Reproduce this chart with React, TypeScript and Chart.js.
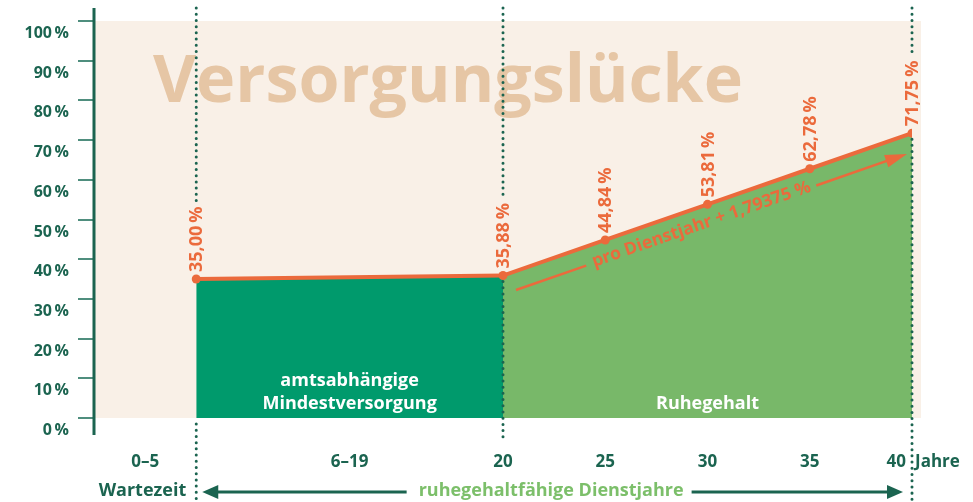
import React, { useEffect, useRef } from 'react';
import { Chart, registerables } from 'chart.js';

Chart.register(...registerables);

// ---- data ----
const serviceYears = [5, 20, 25, 30, 35, 40];
const pensionRates = [35.0, 35.88, 44.84, 53.81, 62.78, 71.75];
const dividerYears = [5, 20, 40];
const yTickValues = [0, 10, 20, 30, 40, 50, 60, 70, 80, 90, 100];
const xTickPositions = [2.5, 12.5, 20, 25, 30, 35, 40];
const xTickLabels = ['0–5', '6–19', '20', '25', '30', '35', '40'];
const unitLabel = 'Jahre';
const titleLabel = 'Versorgungslücke';
const minimumLabel = ['amtsabhängige', 'Mindestversorgung'];
const pensionLabel = 'Ruhegehalt';
const slopeLabel = 'pro Dienstjahr + 1,79375 %';
const waitLabel = 'Wartezeit';
const serviceLabel = 'ruhegehaltfähige Dienstjahre';

// ---- styles ----
const FONT = '"Open Sans", "DejaVu Sans", sans-serif';
const TEAL = '#1B6450';
const TICK = '#4F8E7E';
const BEIGE = '#F9F0E7';
const TAN = '#E6C6A5';
const DARK_GREEN = '#009A6C';
const LIGHT_GREEN = '#78B869';
const ORANGE = '#EB6A3C';
const GREEN_TEXT = '#7CBF6A';

const fmtRate = (v: number) => v.toFixed(2).replace('.', ',') + '\u2009%';

function dotted(ctx: CanvasRenderingContext2D, x: number, y1: number, y2: number) {
  ctx.save();
  ctx.strokeStyle = TEAL;
  ctx.lineWidth = 3;
  ctx.lineCap = 'round';
  ctx.setLineDash([0.01, 6.2]);
  ctx.beginPath();
  ctx.moveTo(x, y1);
  ctx.lineTo(x, y2);
  ctx.stroke();
  ctx.restore();
}

function arrowHead(ctx: CanvasRenderingContext2D, tipX: number, tipY: number, dir: number, len: number, half: number) {
  ctx.beginPath();
  ctx.moveTo(tipX, tipY);
  ctx.lineTo(tipX - dir * len, tipY - half);
  ctx.lineTo(tipX - dir * len, tipY + half);
  ctx.closePath();
  ctx.fill();
}

const decorPlugin = {
  id: 'decor',
  beforeDatasetsDraw(chart: any) {
    const { ctx, scales } = chart;
    const x = scales.x, y = scales.y;
    const left = x.getPixelForValue(0);
    const right = x.getPixelForValue(40) + 9;
    const top = y.getPixelForValue(100);
    const bottom = y.getPixelForValue(0);
    ctx.save();
    ctx.fillStyle = BEIGE;
    ctx.fillRect(left, top, right - left, bottom - top);
    // title
    let size = 72;
    ctx.font = `bold ${size}px ${FONT}`;
    const w = ctx.measureText(titleLabel).width;
    size = size * 590 / w;
    ctx.font = `bold ${size}px ${FONT}`;
    ctx.fillStyle = TAN;
    ctx.textAlign = 'left';
    ctx.textBaseline = 'alphabetic';
    ctx.fillText(titleLabel, left + 59, top + 81);
    ctx.restore();
  },
  afterDatasetsDraw(chart: any) {
    const { ctx, scales } = chart;
    const x = scales.x, y = scales.y;
    const H = chart.height;
    ctx.save();
    const labelFont = `bold 18px ${FONT}`;
    ctx.font = labelFont;
    // dotted dividers
    dividerYears.forEach((yr) => {
      const idx = serviceYears.indexOf(yr);
      const px = x.getPixelForValue(yr);
      const py = y.getPixelForValue(pensionRates[idx]);
      const tw = ctx.measureText(fmtRate(pensionRates[idx])).width;
      const labelTop = py - 7 - tw;
      dotted(ctx, px, 8, labelTop - 5);
      if (yr === 5) dotted(ctx, px, y.getPixelForValue(0) + 6, H);
      else if (yr === 20) dotted(ctx, px, py + 6, y.getPixelForValue(0) + 22);
      else dotted(ctx, px, py + 6, H);
    });
    // rate labels
    ctx.fillStyle = ORANGE;
    ctx.font = labelFont;
    ctx.textAlign = 'left';
    ctx.textBaseline = 'middle';
    serviceYears.forEach((yr, i) => {
      const px = x.getPixelForValue(yr);
      const py = y.getPixelForValue(pensionRates[i]);
      ctx.save();
      ctx.translate(px + 1, py - 7);
      ctx.rotate(-Math.PI / 2);
      ctx.fillText(fmtRate(pensionRates[i]), 0, 0);
      ctx.restore();
    });
    // slope annotation
    const p0x = x.getPixelForValue(serviceYears[1]);
    const p0y = y.getPixelForValue(pensionRates[1]);
    const p1x = x.getPixelForValue(serviceYears[serviceYears.length - 1]);
    const p1y = y.getPixelForValue(pensionRates[pensionRates.length - 1]);
    const slope = (p1y - p0y) / (p1x - p0x);
    const sx = p0x + 13, sy = p0y + slope * 13 + 19;
    const ex = p1x - 5, ey = p0y + slope * (ex - p0x) + 19;
    const ang = Math.atan2(ey - sy, ex - sx);
    const len = Math.hypot(ex - sx, ey - sy);
    ctx.translate(sx, sy);
    ctx.rotate(ang);
    ctx.font = `bold 17.5px ${FONT}`;
    const stw = ctx.measureText(slopeLabel).width;
    const c = len * 0.475;
    ctx.strokeStyle = ORANGE;
    ctx.lineWidth = 2.5;
    ctx.beginPath();
    ctx.moveTo(0, 0);
    ctx.lineTo(c - stw / 2 - 7, 0);
    ctx.moveTo(c + stw / 2 + 6, 0);
    ctx.lineTo(len - 16, 0);
    ctx.stroke();
    ctx.fillStyle = ORANGE;
    arrowHead(ctx, len, 0, 1, 22, 6.5);
    ctx.textAlign = 'center';
    ctx.textBaseline = 'middle';
    ctx.fillText(slopeLabel, c, -1);
    ctx.restore();

    // inside labels
    ctx.save();
    ctx.fillStyle = '#FFFFFF';
    ctx.font = `bold 18px ${FONT}`;
    ctx.textAlign = 'center';
    ctx.textBaseline = 'middle';
    const mx = (x.getPixelForValue(serviceYears[0]) + x.getPixelForValue(serviceYears[1])) / 2;
    const base = y.getPixelForValue(0);
    ctx.fillText(minimumLabel[0], mx, base - 37);
    ctx.fillText(minimumLabel[1], mx, base - 14);
    const rx = (x.getPixelForValue(serviceYears[1]) + x.getPixelForValue(serviceYears[serviceYears.length - 1])) / 2;
    ctx.fillText(pensionLabel, rx, base - 14);
    ctx.restore();
  },
  afterDraw(chart: any) {
    const { ctx, scales } = chart;
    const x = scales.x, y = scales.y;
    const left = x.getPixelForValue(0);
    const base = y.getPixelForValue(0);
    ctx.save();
    // axis line
    ctx.strokeStyle = TEAL;
    ctx.lineWidth = 3;
    ctx.beginPath();
    ctx.moveTo(left, 8);
    ctx.lineTo(left, base + 17);
    ctx.stroke();
    // x labels
    ctx.fillStyle = TEAL;
    ctx.font = `bold 17px ${FONT}`;
    ctx.textBaseline = 'middle';
    const ly = base + 44;
    xTickPositions.forEach((v, i) => {
      const px = x.getPixelForValue(v);
      if (i === xTickPositions.length - 1) {
        ctx.textAlign = 'right';
        ctx.fillText(xTickLabels[i], px - 6, ly);
        ctx.textAlign = 'left';
        ctx.fillText(unitLabel, px + 3, ly);
      } else {
        ctx.textAlign = 'center';
        ctx.fillText(xTickLabels[i], px, ly);
      }
    });
    // bottom row
    const by = base + 73;
    const x5 = x.getPixelForValue(dividerYears[0]);
    const x40 = x.getPixelForValue(dividerYears[dividerYears.length - 1]);
    ctx.font = `bold 18px ${FONT}`;
    ctx.textAlign = 'right';
    ctx.fillText(waitLabel, x5 - 10, by);
    const tc = (x5 + x40) / 2 - 3;
    ctx.fillStyle = GREEN_TEXT;
    ctx.textAlign = 'center';
    ctx.fillText(serviceLabel, tc, by);
    const tw = ctx.measureText(serviceLabel).width;
    ctx.strokeStyle = TEAL;
    ctx.fillStyle = TEAL;
    ctx.lineWidth = 3;
    const l1 = x5 + 6, l2 = tc - tw / 2 - 12;
    const r1 = tc + tw / 2 + 8, r2 = x40 - 9;
    ctx.beginPath();
    ctx.moveTo(l1 + 10, by + 1);
    ctx.lineTo(l2, by + 1);
    ctx.moveTo(r1, by + 1);
    ctx.lineTo(r2 - 10, by + 1);
    ctx.stroke();
    arrowHead(ctx, l1, by + 1, -1, 16, 7);
    arrowHead(ctx, r2, by + 1, 1, 16, 7);
    ctx.restore();
  },
};

export default function App() {
  const ref = useRef<HTMLCanvasElement>(null);
  useEffect(() => {
    if (!ref.current) return;
    const linePts = serviceYears.map((yr, i) => ({ x: yr, y: pensionRates[i] }));
    const minPts = linePts.slice(0, 2);
    const pensionPts = linePts.slice(1);
    const chart = new Chart(ref.current, {
      type: 'line',
      data: {
        datasets: [
          {
            data: linePts,
            borderColor: ORANGE,
            borderWidth: 4,
            pointRadius: 4.5,
            pointBackgroundColor: ORANGE,
            pointBorderWidth: 0,
            fill: false,
            tension: 0,
          },
          {
            data: minPts,
            borderWidth: 0,
            pointRadius: 0,
            backgroundColor: DARK_GREEN,
            fill: 'origin',
          },
          {
            data: pensionPts,
            borderWidth: 0,
            pointRadius: 0,
            backgroundColor: LIGHT_GREEN,
            fill: 'origin',
          },
        ],
      },
      options: {
        responsive: false,
        animation: false,
        layout: { padding: { left: 0, top: 21, right: 61, bottom: 84 } },
        plugins: { legend: { display: false }, tooltip: { enabled: false } },
        scales: {
          x: { type: 'linear', min: 0, max: 40, display: false },
          y: {
            type: 'linear',
            min: 0,
            max: 100,
            afterFit: (s: any) => { s.width = 94; },
            afterBuildTicks: (s: any) => { s.ticks = yTickValues.map((v) => ({ value: v })); },
            border: { display: false },
            grid: { drawOnChartArea: false, drawTicks: true, tickLength: 16, color: TICK, lineWidth: 2 },
            ticks: {
              padding: 9,
              labelOffset: 12.5,
              color: TEAL,
              font: { family: FONT, weight: 'bold', size: 16 },
              callback: (v: any) => v + '\u2009%',
            },
          },
        },
      },
      plugins: [decorPlugin],
    } as any);
    return () => chart.destroy();
  }, []);
  return (
    <div style={{ position: 'absolute', left: 0, top: 0, width: 973, height: 502, background: '#fff' }}>
      <canvas ref={ref} width={973} height={502} />
    </div>
  );
}
